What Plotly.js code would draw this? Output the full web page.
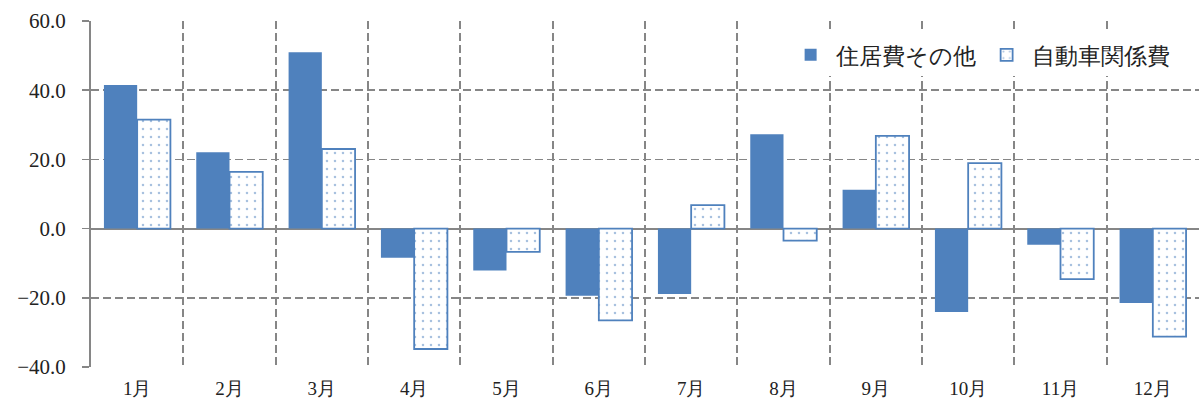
<!DOCTYPE html>
<html><head><meta charset="utf-8">
<script src="https://cdn.plot.ly/plotly-3.0.1.min.js"></script>
<style>html,body{margin:0;padding:0;background:#fff;}#chart{width:1204px;height:406px;}</style>
</head><body><div id="chart"></div>
<script>
const months = ["1月","2月","3月","4月","5月","6月","7月","8月","9月","10月","11月","12月"];
const housing = [41.5, 22.1, 51.0, -8.4, -12.1, -19.4, -18.9, 27.3, 11.2, -24.1, -4.7, -21.5];
const auto = [31.5, 16.4, 23.0, -34.8, -6.7, -26.5, 6.8, -3.5, 26.8, 18.9, -14.6, -31.2];
const yTicks = [-40, -20, 0, 20, 40, 60];
const yTickText = ["\u221240.0", "\u221220.0", "0.0", "20.0", "40.0", "60.0"];

const blue = "#4F81BD";
const grid = "#868686";
const fontFam = "Liberation Serif";

const data = [
  {type:"bar", name:"住居費その他", x:months, y:housing,
   marker:{color:blue, line:{color:blue, width:0}}},
  {type:"bar", name:"自動車関係費", x:months, y:auto,
   marker:{color:"#ffffff", line:{color:blue, width:1.8},
     pattern:{shape:".", fgcolor:blue, bgcolor:"#ffffff", size:8, solidity:0.08, fillmode:"overlay"}}}
];
const layout = {
  width:1204, height:406,
  margin:{l:91, r:5, t:21, b:39},
  paper_bgcolor:"#fff", plot_bgcolor:"#fff",
  barmode:"group", bargap:0.28, bargroupgap:0,
  font:{family:fontFam, color:"#222"},
  showlegend:true,
  legend:{orientation:"h", x:0.978, xanchor:"right", y:0.902, yanchor:"middle",
    font:{size:23, family:fontFam, color:"#222"}, bgcolor:"#fff", itemwidth:40, traceorder:"normal"},
  xaxis:{type:"category", tickson:"boundaries", ticks:"", showgrid:true,
    gridcolor:grid, griddash:"8px,4px", gridwidth:1.7,
    showline:false, tickfont:{size:19, family:fontFam, color:"#222"},
    ticklabelstandoff:8, range:[-0.5, 11.5]},
  yaxis:{range:[-40, 60], tickvals:yTicks, ticktext:yTickText,
    showgrid:true, gridcolor:grid, griddash:"8px,4px", gridwidth:1.7,
    zeroline:true, zerolinecolor:grid, zerolinewidth:2,
    showline:true, linecolor:grid, linewidth:2,
    ticks:"outside", ticklen:7, tickcolor:grid, tickwidth:1.6,
    tickfont:{size:21, family:fontFam, color:"#222"}, ticklabelstandoff:12}
};
Plotly.newPlot("chart", data, layout, {displayModeBar:false, staticPlot:true});
</script></body></html>
